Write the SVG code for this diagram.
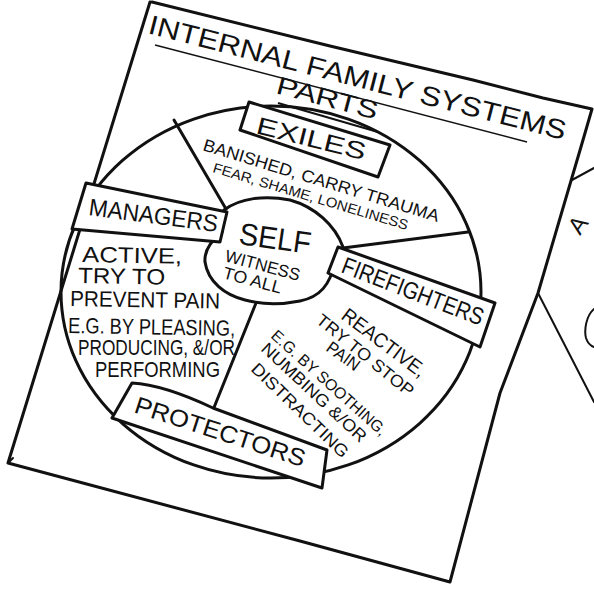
<svg xmlns="http://www.w3.org/2000/svg" width="594" height="589" viewBox="0 0 594 589">
<style>
.ink{fill:none;stroke:#111;stroke-width:3;stroke-linecap:round;stroke-linejoin:round}
.thin{fill:none;stroke:#111;stroke-width:2;stroke-linecap:round;stroke-linejoin:round}
.box{fill:#fff;stroke:#111;stroke-width:3;stroke-linejoin:round}
text{font-family:"Liberation Sans","DejaVu Sans",sans-serif;fill:#111;}
.lbl{font-size:24px}
.body{font-size:20px}
.small{font-size:16px}
</style>
<rect width="594" height="589" fill="#fff"/>

<g id="second-card">
  <path class="thin" d="M538,293 L594,402"/>
  <path class="thin" d="M572,180 L594,168"/>
  <text x="0" y="0" font-size="24" transform="translate(580,236) rotate(-55)">A</text>
  <path class="thin" d="M594,309 C586,316 584,330 586,338 C588,344 591,346 594,347"/>
</g>

<g id="card">
  <path class="ink" d="M152,2 L330,46 L473,80 L543,98 L592,109 L583,140 L538,293 L500,393 L450,582 L300,541 L8,463 L150,2"/>
  <path class="thin" d="M8,463 L13,458"/>
  <text transform="translate(147,33) rotate(14.4)" font-size="27" textLength="430" lengthAdjust="spacingAndGlyphs">INTERNAL FAMILY SYSTEMS</text>
  <path d="M155,45 L527,142" stroke="#111" stroke-width="1.5" fill="none"/>
  <text transform="translate(275,93) rotate(14.8)" font-size="25" textLength="104" lengthAdjust="spacingAndGlyphs">PARTS</text>
  <path d="M278,103 L378,132" stroke="#111" stroke-width="2" fill="none"/>
</g>

<g id="circle">
  <ellipse class="ink" cx="271" cy="292" rx="210" ry="186"/>
</g>

<g id="connectors">
  <path class="ink" d="M174,120 L226,209"/>
  <path class="ink" d="M343,248 L468,232"/>
  <path class="ink" d="M256,303 L213,410"/>
</g>

<g id="self">
  <path class="ink" fill="#fff" d="M224,210 C240,198 265,195 290,200 C315,207 335,225 343,247 L335,262 C330,285 320,297 300,301 C280,305 260,304 245,300 C225,295 208,282 205,262 C204,250 212,240 222,232 Z"/>
  <text transform="translate(238,244) rotate(8)" font-size="31" textLength="72" lengthAdjust="spacingAndGlyphs">SELF</text>
  <text transform="translate(224,261) rotate(15)" font-size="17" textLength="77" lengthAdjust="spacingAndGlyphs">WITNESS</text>
  <text transform="translate(222,278) rotate(15)" font-size="17" textLength="60" lengthAdjust="spacingAndGlyphs">TO ALL</text>
</g>

<g id="exiles">
  <path class="box" d="M249,102 L390,145 L378,177 L240,130 Z"/>
  <text transform="translate(255,133) rotate(14)" class="lbl" textLength="112" lengthAdjust="spacingAndGlyphs">EXILES</text>
  <text transform="translate(202,150) rotate(17)" font-size="17" textLength="246" lengthAdjust="spacingAndGlyphs">BANISHED, CARRY TRAUMA</text>
  <text transform="translate(212,172) rotate(16.6)" font-size="14" textLength="203" lengthAdjust="spacingAndGlyphs">FEAR, SHAME, LONELINESS</text>
</g>

<g id="managers">
  <path class="box" d="M86,183 L227,212 L220,242 L72,229 Z"/>
  <text transform="translate(88,215) rotate(7.5)" class="lbl" font-size="25" textLength="130" lengthAdjust="spacingAndGlyphs">MANAGERS</text>
  <g font-size="22">
    <text transform="translate(82,262) rotate(1)" textLength="100" lengthAdjust="spacingAndGlyphs">ACTIVE,</text>
    <text transform="translate(78,283) rotate(1)" textLength="87" lengthAdjust="spacingAndGlyphs">TRY TO</text>
    <text transform="translate(70,306) rotate(1)" textLength="150" lengthAdjust="spacingAndGlyphs">PREVENT PAIN</text>
    <text transform="translate(68,333) rotate(1)" textLength="167" lengthAdjust="spacingAndGlyphs">E.G. BY PLEASING,</text>
    <text transform="translate(78,355) rotate(0)" textLength="157" lengthAdjust="spacingAndGlyphs">PRODUCING, &amp;/OR</text>
    <text transform="translate(95,377) rotate(0)" textLength="125" lengthAdjust="spacingAndGlyphs">PERFORMING</text>
  </g>
</g>

<g id="firefighters">
  <path class="box" d="M338,247 L495,303 L480,347 L328,273 Z"/>
  <text transform="translate(340,272) rotate(21)" class="lbl" font-size="23" textLength="150" lengthAdjust="spacingAndGlyphs">FIREFIGHTERS</text>
  <text transform="translate(340,318) rotate(37)" font-size="20" textLength="100" lengthAdjust="spacingAndGlyphs">REACTIVE,</text>
  <text transform="translate(315,322) rotate(39)" font-size="17" textLength="120" lengthAdjust="spacingAndGlyphs">TRY TO STOP</text>
  <text transform="translate(325,350) rotate(36)" font-size="17" textLength="37" lengthAdjust="spacingAndGlyphs">PAIN</text>
  <text transform="translate(270,337) rotate(42)" font-size="16" textLength="149" lengthAdjust="spacingAndGlyphs">E.G. BY SOOTHING,</text>
  <text transform="translate(260,350) rotate(43)" font-size="17" textLength="137" lengthAdjust="spacingAndGlyphs">NUMBING &amp;/OR</text>
  <text transform="translate(250,370) rotate(44)" font-size="17" textLength="128" lengthAdjust="spacingAndGlyphs">DISTRACTING</text>
</g>

<g id="protectors">
  <path class="box" d="M132,383 C150,384 175,390 213,408 L327,450 L322,488 L112,418 Z"/>
  <text transform="translate(133,412) rotate(18)" class="lbl" textLength="178" lengthAdjust="spacingAndGlyphs">PROTECTORS</text>
</g>
</svg>
